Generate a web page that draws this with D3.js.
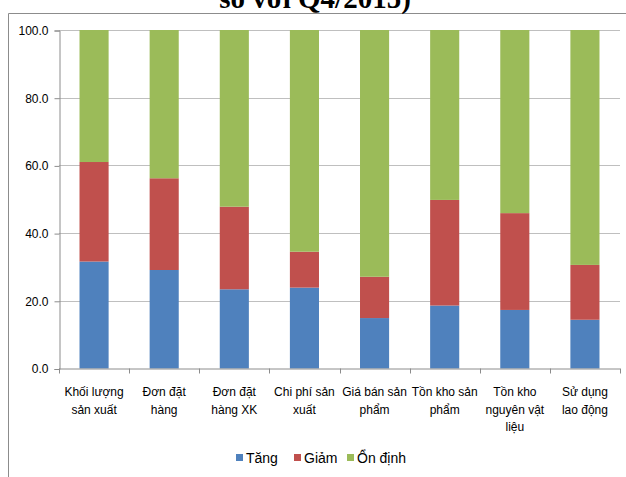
<!DOCTYPE html>
<html>
<head>
<meta charset="utf-8">
<script src="https://cdn.jsdelivr.net/npm/d3@7"></script>
<style>
  html, body { margin: 0; padding: 0; background: #fff; }
  svg { display: block; }
</style>
</head>
<body>
<svg id="chart" width="626" height="477"></svg>
<script>
// Survey indicators (share of enterprises, %)
const categories = [
  ["Khối lượng", "sản xuất"],
  ["Đơn đặt", "hàng"],
  ["Đơn đặt", "hàng XK"],
  ["Chi phí sản", "xuất"],
  ["Giá bán sản", "phẩm"],
  ["Tồn kho sản", "phẩm"],
  ["Tồn kho", "nguyên vật", "liệu"],
  ["Sử dụng", "lao động"]
];
const tang   = [31.6, 29.1, 23.4, 23.9, 14.9, 18.6, 17.3, 14.4];
const giam   = [29.4, 27.1, 24.4, 10.6, 12.2, 31.2, 28.6, 16.2];
const ondinh = [39.0, 43.8, 52.2, 65.5, 72.9, 50.2, 54.1, 69.4];
const seriesNames = ["Tăng", "Giảm", "Ổn định"];
const seriesColors = ["#4f81bd", "#c0504d", "#9bbb59"];
const yTicks = [0, 20, 40, 60, 80, 100];

(function draw() {
  const svg = d3.select("#chart");
  const font = "'Liberation Sans', Arial, sans-serif";

  // Outer frame (left and top edges)
  svg.append("line").attr("x1", 8.5).attr("x2", 8.5).attr("y1", 13.5).attr("y2", 477)
    .attr("stroke", "#8c8c8c").attr("stroke-width", 1);
  svg.append("line").attr("x1", 8.5).attr("x2", 626).attr("y1", 13.5).attr("y2", 13.5)
    .attr("stroke", "#8c8c8c").attr("stroke-width", 1);

  // Title (continues above the frame)
  svg.append("text")
    .attr("x", 315).attr("y", 8)
    .attr("text-anchor", "middle")
    .attr("font-family", "'Liberation Serif', 'Times New Roman', serif")
    .attr("font-weight", "bold")
    .attr("font-size", 29)
    .attr("fill", "#000")
    .text("so với Q4/2015)");

  const plotLeft = 59, plotRight = 620, plotTop = 30, plotBottom = 368.5;

  const x = d3.scaleBand()
    .domain(d3.range(categories.length))
    .range([plotLeft, plotRight])
    .paddingInner(0.585)
    .paddingOuter(0.2925);

  const y = d3.scaleLinear().domain([0, 100]).range([plotBottom, plotTop]);

  // Horizontal gridlines
  svg.append("g").selectAll("line")
    .data(yTicks.filter(d => d > 0))
    .join("line")
    .attr("x1", plotLeft).attr("x2", plotRight)
    .attr("y1", d => Math.round(y(d)) + 0.5).attr("y2", d => Math.round(y(d)) + 0.5)
    .attr("stroke", "#bfbfbf").attr("stroke-width", 1);

  // Stacked bars
  const rows = categories.map((c, i) => ({ i, "Tăng": tang[i], "Giảm": giam[i], "Ổn định": ondinh[i] }));
  const stacked = d3.stack().keys(seriesNames)(rows);

  svg.append("g").selectAll("g")
    .data(stacked)
    .join("g")
    .attr("fill", (d, k) => seriesColors[k])
    .selectAll("rect")
    .data(d => d)
    .join("rect")
    .attr("x", d => x(d.data.i))
    .attr("width", x.bandwidth())
    .attr("y", d => y(d[1]))
    .attr("height", d => y(d[0]) - y(d[1]));

  // Y axis
  const yAxis = d3.axisLeft(y)
    .tickValues(yTicks)
    .tickFormat(d3.format(".1f"))
    .tickSize(5)
    .tickPadding(6);
  const gy = svg.append("g").attr("transform", `translate(${plotLeft + 0.5},0.5)`).call(yAxis);
  gy.select(".domain").attr("stroke", "#8c8c8c");
  gy.selectAll(".tick line").attr("stroke", "#8c8c8c");
  gy.selectAll(".tick text")
    .attr("font-family", font).attr("font-size", 12).attr("fill", "#000");

  // X axis baseline with category boundary ticks
  const bw = (plotRight - plotLeft) / categories.length;
  svg.append("line").attr("x1", plotLeft).attr("x2", plotRight)
    .attr("y1", plotBottom + 0.5).attr("y2", plotBottom + 0.5)
    .attr("stroke", "#8c8c8c");
  svg.append("g").selectAll("line")
    .data(d3.range(categories.length + 1))
    .join("line")
    .attr("x1", i => Math.round(plotLeft + i * bw) + 0.5)
    .attr("x2", i => Math.round(plotLeft + i * bw) + 0.5)
    .attr("y1", plotBottom).attr("y2", plotBottom + 5)
    .attr("stroke", "#8c8c8c");

  // Category labels
  const lab = svg.append("g").selectAll("text")
    .data(categories)
    .join("text")
    .attr("x", (d, i) => x(i) + x.bandwidth() / 2)
    .attr("text-anchor", "middle")
    .attr("font-family", font)
    .attr("font-size", 12)
    .attr("fill", "#000");
  lab.selectAll("tspan")
    .data(d => d)
    .join("tspan")
    .attr("x", function () { return this.parentNode.getAttribute("x"); })
    .attr("y", (d, j) => 396 + j * 17.5)
    .text(d => d);

  // Legend
  const legendItems = [
    { name: seriesNames[0], color: seriesColors[0], x: 236 },
    { name: seriesNames[1], color: seriesColors[1], x: 294 },
    { name: seriesNames[2], color: seriesColors[2], x: 347 }
  ];
  const lg = svg.append("g").selectAll("g").data(legendItems).join("g")
    .attr("transform", d => `translate(${d.x},0)`);
  lg.append("rect").attr("x", 0).attr("y", 454).attr("width", 7).attr("height", 7)
    .attr("fill", d => d.color);
  lg.append("text").attr("x", 10).attr("y", 463)
    .attr("font-family", font).attr("font-size", 14).attr("fill", "#000")
    .text(d => d.name);
})();
</script>
</body>
</html>
